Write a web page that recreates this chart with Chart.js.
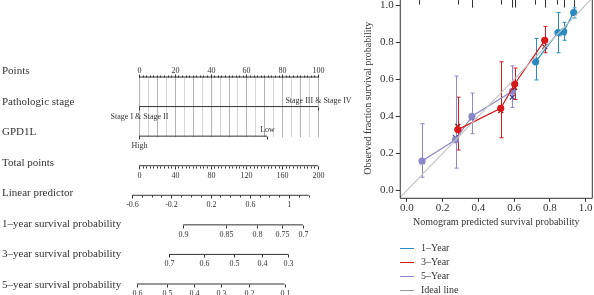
<!DOCTYPE html>
<html>
<head>
<meta charset="utf-8">
<script src="https://cdn.jsdelivr.net/npm/chart.js@4.4.1/dist/chart.umd.min.js"></script>
<style>
  html, body { margin: 0; padding: 0; background: #fff; }
  #wrap { position: relative; width: 594px; height: 295px; overflow: hidden; }
  #nomo { position: absolute; left: 0; top: 0; }
  #calib { position: absolute; left: 358px; top: -10px; }
  #legend { position: absolute; left: 400px; top: 241px; font: 10px "Liberation Serif", serif; color: #333; }
  #legend div { height: 14px; line-height: 14px; white-space: nowrap; }
  #legend span { display: inline-block; width: 14px; height: 0; border-top: 1.5px solid; vertical-align: middle; margin-right: 7px; }
</style>
</head>
<body>
<div id="wrap">
  <canvas id="nomo" width="360" height="295"></canvas>
  <canvas id="calib" width="240" height="305"></canvas>
  <div id="legend"></div>
</div>
<script>
const FONT = '"Liberation Serif", "Times New Roman", serif';
const INK = '#333';

// ---- nomogram ----
const rowTitles = ['Points', 'Pathologic stage', 'GPD1L', 'Total points', 'Linear predictor',
  '1–year survival probability', '3–year survival probability', '5–year survival probability'];
const pointLabels = [0, 20, 40, 60, 80, 100];
const stageLevels = ['Stage I & Stage II', 'Stage III & Stage IV'];
const stagePoints = [0, 100];
const gpdLevels = ['High', 'Low'];
const gpdPoints = [0, 71.5];
const totalLabels = [0, 40, 80, 120, 160, 200];
const lpLabels = [-0.6, -0.2, 0.2, 0.6, 1];
const lpRange = [-0.6, 1.2];
const surv1Labels = [0.9, 0.85, 0.8, 0.75, 0.7];
const surv3Labels = [0.7, 0.6, 0.5, 0.4, 0.3];
const surv5Labels = [0.6, 0.5, 0.4, 0.3, 0.2, 0.1];
// model: lp = lpAtZero + lpPerPoint * points, S(t) = S0(t) ^ exp(lp)
const lpAtZero = -0.529;
const lpPerPoint = 0.01824;
const baseSurv = [0.8922, 0.640, 0.4122];

// ---- calibration ----
const axisTicks = [0, 0.2, 0.4, 0.6, 0.8, 1.0];
const seriesNames = ['1–Year', '3–Year', '5–Year'];
const seriesColors = ['#2b8bc1', '#d7191c', '#8b88c8'];
const crossColors = ['#1b5f8c', '#8c1010', '#3d3b7e'];
const pred1 = [0.72, 0.845, 0.877, 0.933];
const obs1 = [0.694, 0.852, 0.857, 0.96];
const lo1 = [0.596, 0.743, 0.81, 0.93];
const hi1 = [0.82, 0.96, 0.907, 0.985];
const corr1 = [0.70, 0.845, 0.85, 0.955];
const pred3 = [0.285, 0.525, 0.603, 0.771];
const obs3 = [0.328, 0.443, 0.574, 0.81];
const lo3 = [0.218, 0.284, 0.49, 0.743];
const hi3 = [0.503, 0.694, 0.66, 0.885];
const corr3 = [0.345, 0.43, 0.555, 0.775];
const pred5 = [0.085, 0.272, 0.364, 0.59];
const obs5 = [0.158, 0.273, 0.4, 0.535];
const lo5 = [0.071, 0.12, 0.306, 0.448];
const hi5 = [0.36, 0.617, 0.525, 0.672];
const corr5 = [0.155, 0.285, 0.39, 0.503];
const rugPred = [0.07, 0.285, 0.363, 0.525, 0.587, 0.603, 0.715, 0.77, 0.838, 0.877, 0.933];
const rugCount = [1, 1, 2, 1, 2, 2, 1, 2, 1, 2, 2];

// conversions to the points scale
const totalToPts = t => t / 2;
const lpToPts = lp => (lp - lpAtZero) / lpPerPoint;
const survToPts = (p, s0) => lpToPts(Math.log(Math.log(p) / Math.log(s0)));
const range = (a, b, step) => { const r = []; for (let v = a; v <= b + 1e-9; v += step) r.push(+v.toFixed(4)); return r; };

const rows = [
  { from: 0, to: 100, side: 'up',
    minor: range(0, 100, 2), ticks: pointLabels.map(v => ({ p: v, text: String(v), pos: 'above' })) },
  { from: stagePoints[0], to: stagePoints[1], side: 'down', minor: [],
    ticks: stageLevels.map((s, i) => ({ p: stagePoints[i], text: s, pos: i === 0 ? 'below' : 'above' })) },
  { from: gpdPoints[0], to: gpdPoints[1], side: 'down', minor: [],
    ticks: gpdLevels.map((s, i) => ({ p: gpdPoints[i], text: s, pos: i === 0 ? 'below' : 'above' })) },
  { from: totalToPts(0), to: totalToPts(200), side: 'down',
    minor: range(0, 200, 4).map(totalToPts), ticks: totalLabels.map(v => ({ p: totalToPts(v), text: String(v), pos: 'below' })) },
  { from: lpToPts(lpRange[0]), to: lpToPts(lpRange[1]), side: 'down',
    minor: range(lpRange[0], lpRange[1], 0.1).map(lpToPts), ticks: lpLabels.map(v => ({ p: lpToPts(v), text: String(v), pos: 'below' })) },
  ...[surv1Labels, surv3Labels, surv5Labels].map((labs, k) => ({
    from: survToPts(labs[0], baseSurv[k]), to: survToPts(labs[labs.length - 1], baseSurv[k]), side: 'down', minor: [],
    ticks: labs.map(v => ({ p: survToPts(v, baseSurv[k]), text: String(v), pos: 'below' }))
  }))
];

const nomoPlugin = {
  id: 'nomo',
  beforeDatasetsDraw(chart) {
    const { ctx, scales: { x, y } } = chart;
    ctx.save();
    // vertical reference lines every 5 points
    for (let v = 0; v <= 100; v += 5) {
      const px = Math.round(x.getPixelForValue(v)) + 0.5;
      ctx.strokeStyle = v % 10 === 0 ? '#b4b4b4' : '#d6d6d6';
      ctx.lineWidth = 1;
      ctx.beginPath();
      ctx.moveTo(px, y.getPixelForValue(0));
      ctx.lineTo(px, y.getPixelForValue(2) + 1);
      ctx.stroke();
    }
    ctx.restore();
  },
  afterDatasetsDraw(chart) {
    const { ctx, scales: { x, y } } = chart;
    ctx.save();
    ctx.strokeStyle = INK;
    ctx.fillStyle = INK;
    ctx.lineWidth = 1;
    rows.forEach((row, r) => {
      const py = Math.round(y.getPixelForValue(r)) + 0.5;
      const dir = row.side === 'up' ? -1 : 1;
      row.minor.forEach(p => {
        const px = Math.round(x.getPixelForValue(p)) + 0.5;
        ctx.beginPath(); ctx.moveTo(px, py); ctx.lineTo(px, py + dir * 2); ctx.stroke();
      });
      ctx.font = '8px ' + FONT;
      ctx.textAlign = 'center';
      row.ticks.forEach(t => {
        const px = Math.round(x.getPixelForValue(t.p)) + 0.5;
        ctx.beginPath(); ctx.moveTo(px, py); ctx.lineTo(px, py + dir * 3); ctx.stroke();
        if (t.pos === 'above') { ctx.textBaseline = 'bottom'; ctx.fillText(t.text, px, py - 3); }
        else { ctx.textBaseline = 'top'; ctx.fillText(t.text, px, py + 5); }
      });
      // row titles are spaced slightly wider than the axis lines
      ctx.font = '11px ' + FONT;
      ctx.textAlign = 'left';
      ctx.textBaseline = 'middle';
      ctx.fillText(rowTitles[r], 2, py - 6 + r);
    });
    ctx.restore();
  }
};

new Chart(document.getElementById('nomo'), {
  type: 'line',
  data: {
    datasets: rows.map((row, r) => ({
      data: [{ x: row.from, y: r }, { x: row.to, y: r }],
      borderColor: INK, borderWidth: 1, pointRadius: 0, clip: false
    }))
  },
  options: {
    responsive: false, animation: false, events: [],
    layout: { padding: { left: 139, right: 42, top: 77, bottom: 11 } },
    plugins: { legend: { display: false }, tooltip: { enabled: false } },
    scales: {
      x: { type: 'linear', min: 0, max: 100, display: false },
      y: { type: 'linear', min: 0, max: 7, reverse: true, display: false }
    }
  },
  plugins: [nomoPlugin]
});

// ---- calibration plot ----
const preds = [pred1, pred3, pred5], obs = [obs1, obs3, obs5];
const los = [lo1, lo3, lo5], his = [hi1, hi3, hi5], corrs = [corr1, corr3, corr5];

const calibPlugin = {
  id: 'calib',
  beforeDatasetsDraw(chart) {
    const { ctx, chartArea: a, scales: { x, y } } = chart;
    ctx.save();
    ctx.lineWidth = 1;
    ctx.strokeStyle = INK;
    rugPred.forEach((v, i) => {
      const px = Math.round(x.getPixelForValue(v)) + 0.5;
      ctx.beginPath(); ctx.moveTo(px, a.top); ctx.lineTo(px, a.top + 3 + rugCount[i] * 3); ctx.stroke();
    });
    preds.forEach((pr, s) => {
      ctx.strokeStyle = seriesColors[s];
      pr.forEach((v, i) => {
        const px = Math.round(x.getPixelForValue(v)) + 0.5;
        const y1 = y.getPixelForValue(los[s][i]), y2 = y.getPixelForValue(his[s][i]);
        ctx.beginPath();
        ctx.moveTo(px, y1); ctx.lineTo(px, y2);
        ctx.moveTo(px - 2, y1); ctx.lineTo(px + 2, y1);
        ctx.moveTo(px - 2, y2); ctx.lineTo(px + 2, y2);
        ctx.stroke();
      });
    });
    ctx.restore();
  },
  afterDraw(chart) {
    const { ctx, chartArea: a } = chart;
    ctx.save();
    ctx.strokeStyle = INK;
    ctx.lineWidth = 1;
    ctx.beginPath();
    ctx.moveTo(a.left + 0.5, a.top);
    ctx.lineTo(a.left + 0.5, a.bottom + 0.5);
    ctx.lineTo(a.right - 0.5, a.bottom + 0.5);
    ctx.lineTo(a.right - 0.5, a.top);
    ctx.stroke();
    ctx.restore();
  }
};

const calibSets = [{
  label: 'Ideal line',
  data: [{ x: -0.04, y: -0.04 }, { x: 1.04, y: 1.04 }],
  borderColor: '#c4c4c4', borderWidth: 1.2, pointRadius: 0
}];
preds.forEach((pr, s) => {
  calibSets.push({
    label: seriesNames[s],
    data: pr.map((v, i) => ({ x: v, y: obs[s][i] })),
    borderColor: seriesColors[s], backgroundColor: seriesColors[s],
    borderWidth: 1.2, pointRadius: 3.6, pointBorderWidth: 0
  });
  calibSets.push({
    label: seriesNames[s] + ' corrected',
    data: pr.map((v, i) => ({ x: v, y: corrs[s][i] })),
    showLine: false, pointStyle: 'crossRot', pointRadius: 3.5,
    pointBorderColor: crossColors[s], pointBorderWidth: 1.2
  });
});

const tickFont = { family: FONT, size: 11 };
const titleFont = { family: FONT, size: 10 };
new Chart(document.getElementById('calib'), {
  type: 'line',
  data: { datasets: calibSets },
  options: {
    responsive: false, animation: false, events: [],
    layout: { padding: { left: 4, right: 0, top: 0, bottom: 67 } },
    plugins: { legend: { display: false }, tooltip: { enabled: false } },
    scales: {
      x: {
        type: 'linear', min: -0.04, max: 1.04,
        afterBuildTicks: s => { s.ticks = axisTicks.map(v => ({ value: v })); },
        ticks: { font: tickFont, color: INK, padding: 0, maxRotation: 0, callback: v => v.toFixed(1) },
        grid: { drawOnChartArea: false, tickLength: 4, color: INK },
        border: { display: false },
        title: { display: true, text: 'Nomogram predicted survival probability', font: titleFont, color: INK, padding: { top: 1, bottom: 0 } }
      },
      y: {
        type: 'linear', min: -0.04, max: 1.035,
        afterBuildTicks: s => { s.ticks = axisTicks.map(v => ({ value: v })); },
        ticks: { font: tickFont, color: INK, padding: 2, callback: v => v.toFixed(1) },
        grid: { drawOnChartArea: false, tickLength: 4, color: INK },
        border: { display: false },
        title: { display: true, text: 'Observed fraction survival probability', font: titleFont, color: INK, padding: { top: 0, bottom: 4 } }
      }
    }
  },
  plugins: [calibPlugin]
});

// legend
const legendItems = seriesNames.map((n, i) => [n, seriesColors[i]]).concat([['Ideal line', '#9a9a9a']]);
document.getElementById('legend').innerHTML = legendItems
  .map(([n, c]) => `<div><span style="border-color:${c}"></span>${n}</div>`).join('');
</script>
</body>
</html>
